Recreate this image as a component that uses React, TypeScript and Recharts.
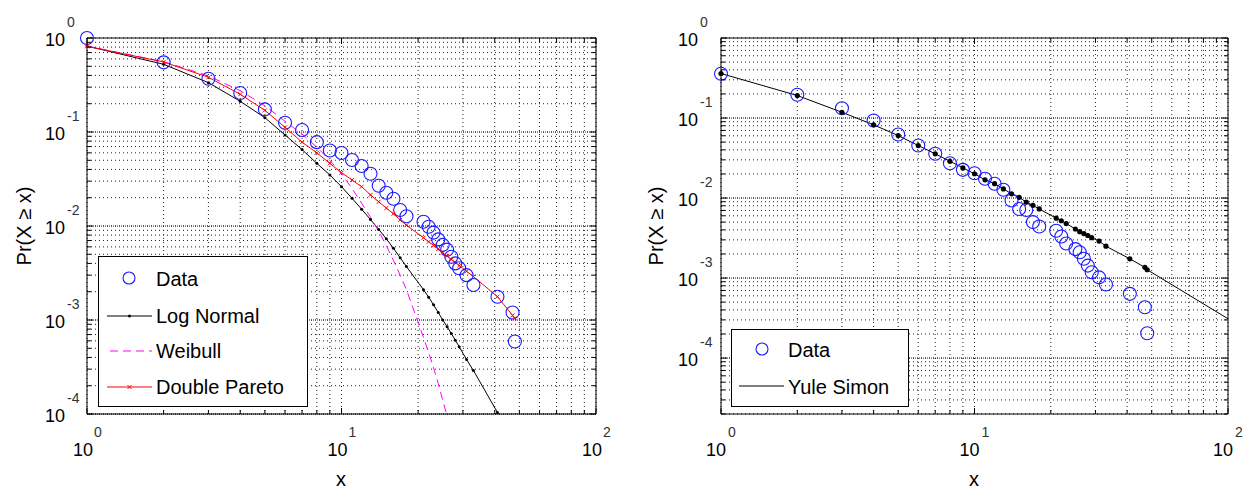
import React from 'react';
import { ComposedChart, Line, Scatter, XAxis, YAxis, CartesianGrid, ReferenceLine } from 'recharts';

const FONT = '"Liberation Sans", Arial, Helvetica, sans-serif';

// observed points, left panel
const leftObsX = [1, 2, 3, 4, 5, 6, 7, 8, 9, 10, 11, 12, 13, 14, 15, 16, 17, 18, 21, 22, 23, 24, 25, 26, 27, 28, 29, 31, 33, 41, 47, 48];
const leftObsY = [1.0, 0.551, 0.369, 0.26, 0.174, 0.1256, 0.105, 0.078, 0.0636, 0.0598, 0.0504, 0.0435, 0.036, 0.0268, 0.0226, 0.0195, 0.0148, 0.0127, 0.0111, 0.0098, 0.0085, 0.0072, 0.0063, 0.0056, 0.0047, 0.004, 0.00355, 0.003, 0.00236, 0.00177, 0.0012, 0.00059];

// fitted curves, left panel (read at the observed x positions)
const logNormalY = [0.82, 0.525, 0.335, 0.212, 0.142, 0.093, 0.065, 0.0464, 0.0349, 0.0262, 0.0197, 0.0151, 0.0117, 0.0092, 0.0073, 0.0058, 0.0046, 0.0037, 0.0021, 0.00175, 0.00145, 0.0012, 0.001, 0.00085, 0.00072, 0.00061, 0.00052, 0.00038, 0.00029, 0.000104, 0.000052, 0.000047];
const weibullX = [1, 2, 3, 4, 5, 6, 7, 8, 9, 10, 11, 12, 13, 14, 15, 16, 17, 18, 21, 22, 23, 24, 25, 26, 27, 28];
const weibullY = [0.82, 0.56, 0.395, 0.275, 0.19, 0.13, 0.095, 0.069, 0.05, 0.036, 0.025, 0.0175, 0.0124, 0.0088, 0.0062, 0.0043, 0.003, 0.0021, 0.00065, 0.00045, 0.00031, 0.00021, 0.00014, 0.000095, 0.00006, 0.00004];
const paretoY = [0.816, 0.556, 0.382, 0.252, 0.17, 0.112, 0.078, 0.06, 0.0464, 0.0369, 0.0309, 0.0262, 0.0214, 0.0181, 0.0155, 0.0135, 0.0116, 0.0102, 0.0075, 0.0068, 0.0062, 0.0057, 0.0052, 0.0048, 0.0044, 0.0041, 0.0038, 0.0033, 0.0029, 0.00177, 0.00112, 0.00104];

// right panel
const rightObsX = [1, 2, 3, 4, 5, 6, 7, 8, 9, 10, 11, 12, 13, 14, 15, 16, 17, 18, 21, 22, 23, 25, 26, 27, 28, 29, 31, 33, 41, 47, 48];
const rightObsY = [0.357, 0.195, 0.1326, 0.093, 0.0622, 0.0453, 0.0357, 0.0272, 0.0225, 0.0204, 0.0174, 0.0151, 0.0127, 0.0093, 0.0073, 0.0071, 0.005, 0.0044, 0.0039, 0.0033, 0.0027, 0.0023, 0.0021, 0.00174, 0.00143, 0.00118, 0.00102, 0.00083, 0.000635, 0.000432, 0.000204];
const yuleX = [...rightObsX, 100];
const yuleY = [0.36, 0.191, 0.118, 0.0822, 0.0604, 0.0453, 0.0357, 0.0288, 0.0238, 0.0201, 0.0169, 0.0151, 0.013, 0.0113, 0.0102, 0.0089, 0.0081, 0.0073, 0.0056, 0.0052, 0.0048, 0.0041, 0.0038, 0.0036, 0.0034, 0.0032, 0.0029, 0.0025, 0.00174, 0.00136, 0.00127, 0.00031];

const xTicks = [1, 2, 3, 4, 5, 6, 7, 8, 9, 10, 20, 30, 40, 50, 60, 70, 80, 90, 100];

// 1..9 x 10^e for every decade, ending at 10^0
const logTicks = (fromExp: number, firstMant: number) => {
  const out: number[] = [];
  for (let e = fromExp; e < 0; e++) {
    for (let m = e === fromExp ? firstMant : 1; m <= 9; m++) out.push(Number((m * Math.pow(10, e)).toPrecision(3)));
  }
  out.push(1);
  return out;
};
const leftYTicks = logTicks(-4, 1);
const rightYTicks = logTicks(-5, 2);
const leftDecades = [0.0001, 0.001, 0.01, 0.1];
const rightDecades = [0.0001, 0.001, 0.01, 0.1];

const rows = (xs: number[], ys: number[]) => xs.map((x, i) => ({ x, y: ys[i] }));

const isDecade = (v: number) => Math.abs(Math.log10(v) - Math.round(Math.log10(v))) < 1e-6;
const expOf = (v: number) => Math.round(Math.log10(v));

const makeBottomTick = (dx: number) => (props: any) => {
  const { x, y, payload } = props;
  const major = isDecade(payload.value);
  return (
    <g>
      <line x1={x} x2={x} y1={y} y2={y - (major ? 6 : 4)} stroke="#000" />
      {major && (
        <>
          <text x={x + dx} y={y + 42} textAnchor="middle" fontSize={18} fontFamily={FONT} fill="#000">10</text>
          <text x={x + 7} y={y + 23} fontSize={14} fontFamily={FONT} fill="#333">{expOf(payload.value)}</text>
        </>
      )}
    </g>
  );
};

const TopTick = (props: any) => {
  const { x, y, payload } = props;
  const major = isDecade(payload.value);
  return <line x1={x} x2={x} y1={y} y2={y + (major ? 6 : 4)} stroke="#000" />;
};

const makeLeftTick = (gap: number) => (props: any) => {
  const { x, y, payload } = props;
  const major = isDecade(payload.value);
  return (
    <g>
      <line x1={x} x2={x + (major ? 6 : 4)} y1={y} y2={y} stroke="#000" />
      {major && (
        <>
          <text x={x - gap} y={y + 7.5} textAnchor="end" fontSize={18} fontFamily={FONT} fill="#000">10</text>
          <text x={x - gap + 2} y={y - 11} fontSize={14} fontFamily={FONT} fill="#333">{expOf(payload.value)}</text>
        </>
      )}
    </g>
  );
};

const RightTick = (props: any) => {
  const { x, y, payload } = props;
  const major = isDecade(payload.value);
  return <line x1={x} x2={x - (major ? 6 : 4)} y1={y} y2={y} stroke="#000" />;
};

const DataCircle = (p: any) => <circle cx={p.cx} cy={p.cy} r={6.5} fill="none" stroke="#1a1aff" strokeWidth={1.1} />;
const SmallDot = (r: number) => (p: any) => <circle key={p.index} cx={p.cx} cy={p.cy} r={r} fill="#000" />;
const RedCross = (p: any) => (
  <path key={p.index} d={`M${p.cx - 2},${p.cy - 2}L${p.cx + 2},${p.cy + 2}M${p.cx - 2},${p.cy + 2}L${p.cx + 2},${p.cy - 2}`} stroke="#ff0000" strokeWidth={1} />
);
const YuleDot = (p: any) =>
  p.index === yuleX.length - 1 ? <g key={p.index} /> : <circle key={p.index} cx={p.cx} cy={p.cy} r={2.6} fill="#000" />;

interface PanelProps {
  width: number;
  leftW: number;
  rightW: number;
  yDomain: [number, number];
  yTicks: number[];
  decades: number[];
  tickDx: number;
  tickGap: number;
  children: React.ReactNode;
}

const Panel: React.FC<PanelProps> = ({ width, leftW, rightW, yDomain, yTicks, decades, tickDx, tickGap, children }) => (
  <ComposedChart width={width} height={490} margin={{ top: 0, right: 0, bottom: 0, left: 0 }}>
    <CartesianGrid stroke="#222" strokeDasharray="1 3" strokeWidth={1} />
    {decades.map((d) => (
      <ReferenceLine key={d} y={d} stroke="#222" strokeDasharray="1 1" strokeWidth={1} />
    ))}
    <XAxis
      dataKey="x" type="number" scale="log" domain={[1, 100]} ticks={xTicks} interval={0}
      height={76} tickSize={0} tickMargin={0} tickLine={false} axisLine={{ stroke: '#000' }}
      tick={makeBottomTick(tickDx)}
    />
    <XAxis
      xAxisId="top" orientation="top" dataKey="x" type="number" scale="log" domain={[1, 100]} ticks={xTicks}
      interval={0} allowDataOverflow height={38} tickSize={0} tickMargin={0} tickLine={false}
      axisLine={{ stroke: '#000' }} tick={TopTick}
    />
    <YAxis
      dataKey="y" type="number" scale="log" domain={yDomain} ticks={yTicks} interval={0} width={leftW}
      tickSize={0} tickMargin={0} tickLine={false} axisLine={{ stroke: '#000' }}
      tick={makeLeftTick(tickGap)}
    />
    <YAxis
      yAxisId="right" orientation="right" dataKey="y" type="number" scale="log" domain={yDomain} ticks={yTicks}
      interval={0} allowDataOverflow width={rightW} tickSize={0} tickMargin={0} tickLine={false}
      axisLine={{ stroke: '#000' }} tick={RightTick}
    />
    <YAxis yAxisId="clip" hide dataKey="y" type="number" scale="log" domain={yDomain} allowDataOverflow />
    {children}
  </ComposedChart>
);

const LeftPanel = () => (
  <Panel width={620} leftW={87} rightW={24} yDomain={[0.0001, 1]} yTicks={leftYTicks} decades={leftDecades} tickDx={-4} tickGap={22}>
    <Scatter data={rows(leftObsX, leftObsY)} dataKey="y" shape={DataCircle} isAnimationActive={false} />
    <Line data={rows(leftObsX, logNormalY)} dataKey="y" yAxisId="clip" type="linear" stroke="#000" strokeWidth={1} dot={SmallDot(1.5)} activeDot={false} isAnimationActive={false} />
    <Line data={rows(weibullX, weibullY)} dataKey="y" yAxisId="clip" type="linear" stroke="#ff00ff" strokeWidth={1} strokeDasharray="8 5" dot={false} activeDot={false} isAnimationActive={false} />
    <Line data={rows(leftObsX, paretoY)} dataKey="y" yAxisId="clip" type="linear" stroke="#ff0000" strokeWidth={1} dot={RedCross} activeDot={false} isAnimationActive={false} />
  </Panel>
);

const RightPanel = () => (
  <Panel width={623} leftW={99} rightW={17} yDomain={[0.00002, 1]} yTicks={rightYTicks} decades={rightDecades} tickDx={-5} tickGap={23}>
    <Scatter data={rows(rightObsX, rightObsY)} dataKey="y" shape={DataCircle} isAnimationActive={false} />
    <Line data={rows(yuleX, yuleY)} dataKey="y" yAxisId="clip" type="linear" stroke="#000" strokeWidth={1} dot={YuleDot} activeDot={false} isAnimationActive={false} />
  </Panel>
);

const legendText = { fontSize: 20, fontFamily: FONT, fill: '#000', dominantBaseline: 'central' as const };

const YTitle = ({ cx }: { cx: number }) => (
  <text x={cx} y={226} transform={`rotate(-90 ${cx} 226)`} textAnchor="middle" dominantBaseline="central" fontSize={20} fontFamily={FONT} fill="#000">
    Pr(X ≥ x)
  </text>
);
const XTitle = ({ cx }: { cx: number }) => (
  <text x={cx} y={486} textAnchor="middle" fontSize={20} fontFamily={FONT} fill="#000">x</text>
);

const Overlay = () => (
  <svg width={1245} height={490} style={{ position: 'absolute', left: 0, top: 0, pointerEvents: 'none' }}>
    <YTitle cx={24} />
    <XTitle cx={341} />
    <YTitle cx={656} />
    <XTitle cx={974} />

    <rect x={98.5} y={256.5} width={209} height={150} fill="#fff" stroke="#000" />
    <circle cx={129} cy={278} r={6} fill="none" stroke="#1a1aff" strokeWidth={1.1} />
    <text x={156} y={279} {...legendText}>Data</text>
    <line x1={107} x2={152} y1={316} y2={316} stroke="#000" />
    <circle cx={129.5} cy={316} r={1.5} fill="#000" />
    <text x={156} y={316} {...legendText}>Log Normal</text>
    <line x1={110} x2={152} y1={351} y2={351} stroke="#ff00ff" strokeDasharray="8 5" />
    <text x={156} y={351} {...legendText}>Weibull</text>
    <line x1={107} x2={152} y1={387} y2={387} stroke="#ff0000" />
    <path d="M127.5,385L131.5,389M127.5,389L131.5,385" stroke="#ff0000" />
    <text x={156} y={387} {...legendText}>Double Pareto</text>

    <rect x={731.5} y={329.5} width={177} height={77} fill="#fff" stroke="#000" />
    <circle cx={762} cy={349} r={6} fill="none" stroke="#1a1aff" strokeWidth={1.1} />
    <text x={788} y={350} {...legendText}>Data</text>
    <line x1={739} x2={784} y1={386} y2={386} stroke="#000" />
    <text x={788} y={387} {...legendText}>Yule Simon</text>
  </svg>
);

export default function App() {
  return (
    <div style={{ position: 'absolute', left: 0, top: 0, width: 1245, height: 490, background: '#fff' }}>
      <div style={{ position: 'absolute', left: 0, top: 0 }}>
        <LeftPanel />
      </div>
      <div style={{ position: 'absolute', left: 622, top: 0 }}>
        <RightPanel />
      </div>
      <Overlay />
    </div>
  );
}
